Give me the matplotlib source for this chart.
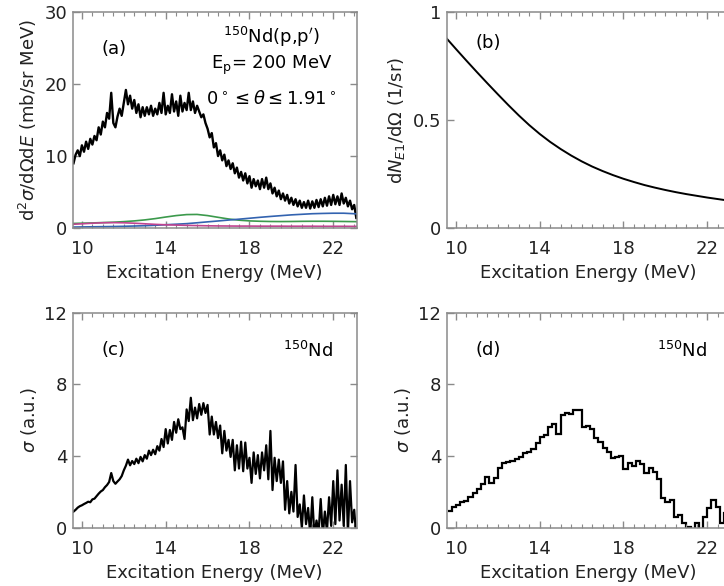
import numpy as np
import matplotlib.pyplot as plt
from matplotlib.ticker import MultipleLocator

# =============================================================================
# DATA
# =============================================================================

# (a) measured 150Nd(p,p') spectrum, 0.1 MeV steps starting at 9.6 MeV
spec_start, spec_step = 9.6, 0.1
spec_a = [
    9.0, 10.2, 10.8, 10.0, 11.5, 10.6, 12.0, 11.0, 12.4, 11.6,
    12.8, 12.2, 14.0, 13.0, 14.8, 14.0, 16.0, 15.2, 18.8, 14.6,
    14.0, 15.5, 16.6, 15.6, 17.4, 19.2, 17.2, 18.4, 16.6, 17.8,
    16.0, 17.2, 15.4, 16.8, 15.6, 16.8, 15.8, 17.0, 15.6, 16.6,
    15.8, 17.4, 16.0, 18.8, 15.8, 17.0, 16.0, 18.6, 16.2, 17.6,
    15.6, 18.4, 16.2, 17.4, 16.4, 18.8, 16.4, 17.6, 16.0, 17.0,
    16.2, 15.4, 15.8, 14.6, 13.8, 12.6, 13.2, 11.2, 11.8, 10.0,
    10.8, 9.4, 10.2, 8.6, 9.4, 8.2, 9.0, 7.6, 8.4, 7.0,
    7.8, 6.6, 7.6, 6.2, 7.2, 5.6, 6.8, 5.8, 6.6, 5.4,
    6.8, 5.6, 7.0, 5.4, 6.2, 4.8, 5.6, 4.4, 5.2, 4.0,
    4.8, 3.8, 4.6, 3.4, 4.2, 3.2, 4.0, 3.0, 3.8, 2.8,
    3.6, 2.8, 3.8, 2.7, 3.7, 2.8, 3.9, 2.9, 4.0, 3.0,
    4.2, 3.1, 4.4, 3.2, 4.6, 3.3, 4.4, 3.2, 4.8, 3.4,
    4.2, 3.0, 3.8, 2.6, 3.2, 1.4,
]

# (a) fitted components, 0.5 MeV steps starting at 9.5 MeV
comp_start, comp_step = 9.5, 0.5
comp_green = [
    0.62, 0.66, 0.70, 0.75, 0.80, 0.88, 0.98, 1.12, 1.30, 1.52,
    1.72, 1.86, 1.88, 1.72, 1.48, 1.25, 1.08, 0.98, 0.93, 0.90,
    0.89, 0.90, 0.92, 0.93, 0.93, 0.92, 0.90, 0.88, 0.86,
]
comp_blue = [
    0.12, 0.14, 0.16, 0.18, 0.20, 0.23, 0.27, 0.31, 0.37, 0.45,
    0.52, 0.60, 0.72, 0.85, 0.97, 1.10, 1.22, 1.35, 1.48, 1.60,
    1.71, 1.82, 1.90, 1.98, 2.02, 2.05, 2.05, 1.98, 1.92,
]
comp_magenta = [
    0.50, 0.58, 0.66, 0.72, 0.74, 0.72, 0.66, 0.58, 0.50, 0.44,
    0.40, 0.36, 0.33, 0.30, 0.28, 0.27, 0.26, 0.26, 0.25, 0.25,
    0.25, 0.24, 0.24, 0.24, 0.23, 0.23, 0.23, 0.22, 0.22,
]

# (b) virtual photon number, same 0.5 MeV grid
photon_n = [
    0.885, 0.830, 0.776, 0.723, 0.671, 0.620, 0.570, 0.522, 0.477, 0.436,
    0.399, 0.366, 0.336, 0.309, 0.285, 0.264, 0.245, 0.228, 0.213, 0.199,
    0.187, 0.176, 0.166, 0.157, 0.149, 0.141, 0.134, 0.127, 0.121,
]

# (c) photoabsorption cross section, 0.1 MeV steps starting at 9.6 MeV
sigma_c = [
    0.90, 1.00, 1.12, 1.20, 1.25, 1.32, 1.38, 1.45, 1.42, 1.58,
    1.62, 1.76, 1.90, 2.02, 2.10, 2.26, 2.38, 2.55, 3.05, 2.60,
    2.45, 2.58, 2.70, 2.88, 3.20, 3.46, 3.80, 3.48, 3.72, 3.55,
    3.85, 3.60, 3.95, 3.70, 4.05, 3.85, 4.30, 4.05, 4.35, 4.10,
    4.55, 4.30, 4.95, 4.50, 5.50, 4.70, 5.45, 4.90, 5.90, 5.30,
    6.05, 5.50, 5.60, 4.95, 6.60, 5.95, 7.25, 6.00, 6.70, 6.10,
    6.90, 6.30, 6.95, 6.40, 6.85, 5.20, 6.20, 5.20, 5.90, 5.00,
    5.70, 4.15, 5.40, 4.30, 4.90, 3.95, 4.90, 3.20, 4.60, 3.30,
    4.80, 3.15, 4.75, 3.30, 3.90, 2.50, 4.20, 3.00, 4.05, 2.75,
    4.20, 3.20, 4.60, 2.70, 5.40, 2.10, 3.90, 2.60, 3.80, 2.50,
    3.70, 1.00, 2.60, 0.80, 2.00, 0.90, 3.50, 0.60, 1.30, 0.00,
    1.80, 0.20, 1.10, -0.40, 1.70, -0.50, 0.40, -0.30, 1.60, -0.40,
    0.90, -0.20, 1.70, 0.10, 2.60, 0.20, 3.20, 0.40, 2.40, 0.10,
    3.50, -0.30, 2.60, 0.30, 1.00, -0.50,
]

# (d) the same cross section in 0.2 MeV bins starting at 9.6 MeV
hist_start, hist_step = 9.6, 0.2
sigma_d = [
    0.95, 1.17, 1.28, 1.41, 1.50, 1.69, 1.95, 2.18, 2.45, 2.81,
    2.51, 2.77, 3.33, 3.63, 3.66, 3.72, 3.81, 3.94, 4.17, 4.20,
    4.41, 4.71, 5.04, 5.15, 5.60, 5.77, 5.23, 6.27, 6.38, 6.34,
    6.57, 6.57, 5.60, 5.67, 5.49, 5.02, 4.80, 4.43, 4.20, 3.89,
    3.96, 4.00, 3.27, 3.61, 3.44, 3.72, 3.55, 3.03, 3.33, 3.12,
    2.70, 1.64, 1.41, 1.54, 0.58, 0.73, 0.24, 0.06, -0.10, 0.24,
    -0.10, 0.62, 1.08, 1.54, 1.14, 0.28, 0.80, 0.50,
]

e_spec = spec_start + spec_step * np.arange(len(spec_a))
e_comp = comp_start + comp_step * np.arange(len(comp_green))
e_sigma = spec_start + spec_step * np.arange(len(sigma_c))
hist_edges = hist_start + hist_step * np.arange(len(sigma_d) + 1)

# =============================================================================
# PLOT
# =============================================================================
plt.rcParams['font.family'] = 'DejaVu Sans'
plt.rcParams['mathtext.fontset'] = 'dejavusans'

fig = plt.figure(figsize=(7.24, 5.86), dpi=100)

# right-hand panels run past the edge of the picture, as in the reference
ax_a = fig.add_axes([0.1004, 0.611, 0.3923, 0.368])
ax_b = fig.add_axes([0.6170, 0.611, 0.3923, 0.368])
ax_c = fig.add_axes([0.1004, 0.0995, 0.3923, 0.367])
ax_d = fig.add_axes([0.6170, 0.0995, 0.3923, 0.367])

spine_col = '#8a8a8a'
for ax in (ax_a, ax_b, ax_c, ax_d):
    ax.set_xlim(9.56, 23.12)
    ax.set_xticks([10, 14, 18, 22])
    ax.xaxis.set_minor_locator(MultipleLocator(0.5))
    ax.tick_params(which='both', direction='in', top=True, right=True,
                   color=spine_col, labelsize=13, labelcolor='#222222')
    ax.tick_params(which='major', length=5, width=1)
    ax.tick_params(which='minor', length=3, width=0.8)
    ax.tick_params(axis='x', pad=9)
    ax.tick_params(axis='y', pad=4)
    for s in ax.spines.values():
        s.set_color(spine_col)
        s.set_linewidth(1.1)
    ax.set_xlabel('Excitation Energy (MeV)', fontsize=13, color='#222222')

# --- (a) ---
ax_a.plot(e_spec, spec_a, color='black', lw=1.7)
ax_a.plot(e_comp, comp_green, color='#3c9a4c', lw=1.2)
ax_a.plot(e_comp, comp_blue, color='#3363b0', lw=1.2)
ax_a.plot(e_comp, comp_magenta, color='#c04490', lw=1.2)
ax_a.set_ylim(0, 30)
ax_a.set_yticks([0, 10, 20, 30])
ax_a.set_ylabel(r'd$^2\sigma$/d$\Omega$d$E$ (mb/sr MeV)', fontsize=13, color='#222222')
ax_a.text(0.145, 0.83, '(a)', transform=ax_a.transAxes, fontsize=13,
          ha='center', va='center')
ax_a.text(0.70, 0.885, r"$^{150}$Nd(p,p$'$)", transform=ax_a.transAxes,
          fontsize=13, ha='center', va='center')
ax_a.text(0.70, 0.755, r'E$_\mathrm{p}$= 200 MeV', transform=ax_a.transAxes,
          fontsize=13, ha='center', va='center')
ax_a.text(0.70, 0.60, r'0$^\circ\leq\theta\leq$1.91$^\circ$',
          transform=ax_a.transAxes, fontsize=13, ha='center', va='center')

# --- (b) ---
ax_b.plot(e_comp, photon_n, color='black', lw=1.4)
ax_b.set_ylim(0, 1)
ax_b.set_yticks([0, 0.5, 1])
ax_b.set_yticklabels(['0', '0.5', '1'])
ax_b.set_ylabel(r'd$N_{E1}$/d$\Omega$ (1/sr)', fontsize=13, color='#222222')
ax_b.text(0.148, 0.858, '(b)', transform=ax_b.transAxes, fontsize=13,
          ha='center', va='center')

# --- (c) ---
ax_c.plot(e_sigma, sigma_c, color='black', lw=1.6)
ax_c.set_ylim(0, 12)
ax_c.set_yticks([0, 4, 8, 12])
ax_c.set_ylabel(r'$\sigma$ (a.u.)', fontsize=13, color='#222222')
ax_c.text(0.142, 0.826, '(c)', transform=ax_c.transAxes, fontsize=13,
          ha='center', va='center')
ax_c.text(0.917, 0.82, r'$^{150}$Nd', transform=ax_c.transAxes, fontsize=13,
          ha='right', va='center')

# --- (d) ---
ax_d.stairs(sigma_d, hist_edges, baseline=None, color='black', lw=1.6)
ax_d.set_ylim(0, 12)
ax_d.set_yticks([0, 4, 8, 12])
ax_d.set_ylabel(r'$\sigma$ (a.u.)', fontsize=13, color='#222222')
ax_d.text(0.147, 0.826, '(d)', transform=ax_d.transAxes, fontsize=13,
          ha='center', va='center')
ax_d.text(0.917, 0.82, r'$^{150}$Nd', transform=ax_d.transAxes, fontsize=13,
          ha='right', va='center')

fig.savefig('out.png', dpi=100)
